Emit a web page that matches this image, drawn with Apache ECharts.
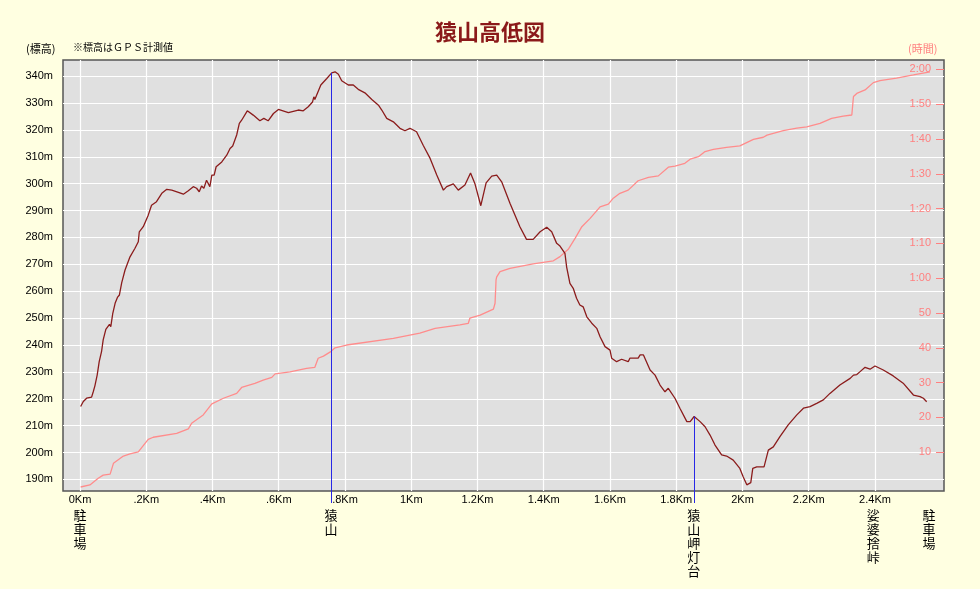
<!DOCTYPE html>
<html><head><meta charset="utf-8">
<script src="https://cdn.jsdelivr.net/npm/echarts/dist/echarts.min.js"></script>
<style>html,body{margin:0;padding:0;background:#FFFFE1;}#c{width:980px;height:589px;}</style>
</head><body><div id="c"></div>
<script>
// ---- data ----
const elevKm = [0.002,0.010,0.020,0.035,0.040,0.045,0.052,0.058,0.065,0.070,0.078,0.089,0.093,0.097,0.099,0.106,0.113,0.119,0.126,0.136,0.151,0.166,0.176,0.179,0.191,0.206,0.216,0.231,0.247,0.262,0.277,0.297,0.312,0.327,0.342,0.352,0.360,0.367,0.374,0.382,0.392,0.398,0.405,0.411,0.428,0.443,0.453,0.461,0.473,0.481,0.488,0.505,0.523,0.543,0.555,0.568,0.584,0.599,0.629,0.659,0.674,0.689,0.702,0.706,0.709,0.715,0.727,0.745,0.760,0.770,0.780,0.790,0.810,0.825,0.840,0.860,0.881,0.901,0.911,0.926,0.946,0.966,0.981,0.996,1.016,1.036,1.057,1.077,1.097,1.107,1.127,1.142,1.162,1.179,1.192,1.210,1.226,1.243,1.258,1.263,1.273,1.298,1.328,1.348,1.368,1.389,1.409,1.424,1.439,1.449,1.464,1.469,1.479,1.489,1.499,1.509,1.519,1.530,1.545,1.560,1.570,1.585,1.600,1.605,1.620,1.635,1.655,1.660,1.685,1.691,1.701,1.721,1.736,1.751,1.766,1.776,1.796,1.811,1.832,1.842,1.854,1.872,1.887,1.902,1.917,1.937,1.952,1.972,1.992,2.002,2.013,2.018,2.025,2.031,2.043,2.065,2.078,2.093,2.113,2.138,2.164,2.184,2.204,2.224,2.244,2.264,2.294,2.325,2.335,2.345,2.355,2.370,2.385,2.400,2.425,2.455,2.485,2.516,2.536,2.546,2.556];
const elevM = [217.1,219.0,220.2,220.6,222.6,224.8,228.9,233.8,237.5,241.9,245.8,247.7,246.8,246.2,251.8,255.5,257.7,258.6,263.2,267.9,272.8,276.0,278.4,282.1,284.0,288.3,292.0,293.3,296.4,297.9,297.6,296.8,296.1,297.4,298.9,298.3,297.0,299.1,298.3,301.3,298.9,303.2,303.2,306.3,308.1,310.6,313.1,314.0,318.1,322.4,323.6,327.1,325.5,323.4,324.3,323.4,326.1,327.6,326.4,327.4,327.1,328.6,330.4,332.3,331.3,331.3,336.7,339.1,341.2,341.6,340.7,338.3,336.7,336.7,335.1,333.8,331.3,329.2,327.4,324.3,323.0,320.6,319.7,320.6,319.3,314.3,309.4,303.2,297.6,298.9,299.9,297.6,299.5,304.0,300.1,291.8,300.3,302.8,303.2,303.8,300.7,292.7,284.0,279.3,279.3,282.1,283.8,282.1,277.8,276.8,274.1,269.1,262.9,261.1,257.4,254.9,254.2,250.5,248.1,246.2,243.1,239.4,238.1,235.1,233.8,234.7,233.8,235.1,235.1,236.3,236.3,230.7,228.8,225.1,222.6,223.9,220.2,216.5,211.5,211.5,213.4,211.5,209.6,206.5,202.8,199.1,198.7,197.2,194.1,191.0,188.0,187.3,188.8,194.1,194.7,194.7,200.9,202.1,205.9,210.3,214.0,216.5,217.1,218.3,219.6,222.0,225.1,227.6,228.8,229.0,230.1,231.7,231.0,232.2,230.7,228.5,225.8,221.4,220.8,220.2,218.9];
const timeKm = [0.002,0.030,0.055,0.070,0.091,0.101,0.131,0.151,0.176,0.206,0.221,0.292,0.327,0.337,0.372,0.398,0.433,0.473,0.488,0.528,0.553,0.579,0.589,0.634,0.684,0.709,0.719,0.735,0.757,0.770,0.805,0.946,1.026,1.072,1.147,1.172,1.177,1.208,1.248,1.253,1.256,1.258,1.268,1.298,1.368,1.429,1.449,1.474,1.495,1.515,1.540,1.570,1.595,1.610,1.630,1.655,1.685,1.716,1.746,1.776,1.796,1.826,1.842,1.867,1.887,1.912,1.952,1.992,2.033,2.063,2.074,2.123,2.164,2.194,2.234,2.269,2.304,2.330,2.335,2.345,2.370,2.395,2.415,2.465,2.516,2.566];
const timeMin = [0,0.6,2.5,3.4,3.7,6.8,8.9,9.5,10.1,13.7,14.3,15.4,16.7,18.3,20.7,23.9,25.5,26.9,28.6,29.8,30.7,31.5,32.5,33.1,34.1,34.4,37.0,37.6,38.9,40.0,40.8,42.7,44.2,45.6,46.6,47.0,48.5,49.4,51.1,52.8,59.5,60.4,61.9,62.8,64.1,65.0,66.2,68.3,71.5,74.8,77.2,80.5,81.3,83.0,84.4,85.3,88.0,89.0,89.4,91.9,92.2,93.0,94.2,94.9,96.4,97.0,97.6,98.0,99.9,100.5,101.1,102.4,103.1,103.5,104.5,105.9,106.6,106.9,112.2,113.1,114.1,116.2,116.8,117.5,118.4,119.3];
const landmarkNames = ['駐車場','猿山','猿山岬灯台','娑婆捨峠','駐車場'];
const landmarkKm = [0, 0.758, 1.853, 2.395, 2.563];
const landmarkElev = [217.1, 341.2, 213.4, 232.2, 218.9];
const landmarkLine = [false, true, true, false, false];
const kmTicks = [0,0.2,0.4,0.6,0.8,1.0,1.2,1.4,1.6,1.8,2.0,2.2,2.4];
const elevTicks = [190,200,210,220,230,240,250,260,270,280,290,300,310,320,330,340];
const timeTicks = [10,20,30,40,50,60,70,80,90,100,110,120];

const chart = echarts.init(document.getElementById('c'), null, {renderer:'canvas'});
const numFont = '"Liberation Sans", "Noto Sans CJK JP", sans-serif';
const jpFont = '"Noto Sans CJK JP", sans-serif';

function kmLabel(v){
  const r = Math.round(v*10)/10;
  if (r === 0) return '0Km';
  if (r < 1) return '.' + String(Math.round(r*10)) + 'Km';
  return String(r) + 'Km';
}
function timeLabel(v){
  if (v < 60) return String(v);
  const h = Math.floor(v/60), m = v % 60;
  return h + ':' + (m < 10 ? '0' + m : m);
}

chart.setOption({
  backgroundColor: '#FFFFE1',
  animation: false,
  title: {
    text: '猿山高低図', left: 'center', top: 16,
    textStyle: {fontFamily: jpFont, fontSize: 22, fontWeight: 'bold', color: '#8B1A1A'}
  },
  graphic: [
    {type:'text', left: 26, top: 43, style:{text:'(標高)', fontSize: 11, fontFamily: jpFont, fill:'#000'}},
    {type:'text', left: 73, top: 42, style:{text:'※標高はＧＰＳ計測値', fontSize: 10, fontFamily: jpFont, fill:'#000'}},
    {type:'text', left: 908, top: 43, style:{text:'(時間)', fontSize: 11, fontFamily: jpFont, fill:'#FF7F7F'}}
  ],
  grid: {
    left: 63, top: 60, right: 36, bottom: 98,
    show: true, backgroundColor: '#E0E0E0', borderColor: '#555555', borderWidth: 1.5
  },
  xAxis: {
    type: 'value', min: -0.0513, max: 2.6083,
    axisLine: {show: false},
    axisTick: {show: false, customValues: kmTicks},
    splitLine: {show: true, lineStyle: {color: '#FFFFFF', width: 1.2}},
    axisLabel: {customValues: kmTicks, formatter: kmLabel, margin: 3, fontSize: 11, color: '#000', fontFamily: numFont}
  },
  yAxis: [
    {
      type: 'value', min: 185.7, max: 346,
      axisLine: {show: false},
      axisTick: {show: false, customValues: elevTicks},
      splitLine: {show: true, lineStyle: {color: '#FFFFFF', width: 1.2}},
      axisLabel: {customValues: elevTicks, formatter: v => v + 'm', margin: 10, fontSize: 11, color: '#000', fontFamily: numFont}
    },
    {
      type: 'value', min: -1.15, max: 122.7, position: 'right',
      axisLine: {show: false},
      axisTick: {show: true, inside: true, length: 8, customValues: timeTicks, lineStyle: {color: '#FF8080', width: 1}},
      splitLine: {show: false},
      axisLabel: {customValues: timeTicks, inside: true, formatter: timeLabel, margin: 13, fontSize: 11, color: '#FF7F7F', fontFamily: numFont}
    }
  ],
  series: [
    {
      type: 'line', yAxisIndex: 1, showSymbol: false, silent: true,
      data: timeKm.map((k, i) => [k, timeMin[i]]),
      lineStyle: {color: '#FF8C8C', width: 1.3}, z: 2
    },
    {
      type: 'line', yAxisIndex: 0, showSymbol: false, silent: true,
      data: elevKm.map((k, i) => [k, elevM[i]]),
      lineStyle: {color: '#8B1C1C', width: 1.3}, z: 3
    },
    {
      type: 'custom', yAxisIndex: 0, clip: false, silent: true, z: 5,
      encode: {x: 0, y: 1},
      data: landmarkKm.map((k, i) => [k, landmarkElev[i], i]),
      renderItem: function (params, api) {
        const i = api.value(2);
        const p = api.coord([api.value(0), api.value(1)]);
        const cs = params.coordSys;
        const bottom = cs.y + cs.height;
        const x = Math.round(p[0]) + 0.5;
        const children = [];
        if (landmarkLine[i]) {
          children.push({type: 'line', shape: {x1: x, y1: p[1], x2: x, y2: bottom + 12},
            style: {stroke: '#2828E6', lineWidth: 1}});
        }
        children.push({type: 'text', style: {
          text: landmarkNames[i].split('').join('\n'), x: p[0], y: bottom + 17,
          align: 'center', verticalAlign: 'top', fontSize: 13, lineHeight: 14,
          fontFamily: jpFont, fill: '#000'}});
        return {type: 'group', children: children};
      }
    }
  ]
});
</script>
</body></html>
